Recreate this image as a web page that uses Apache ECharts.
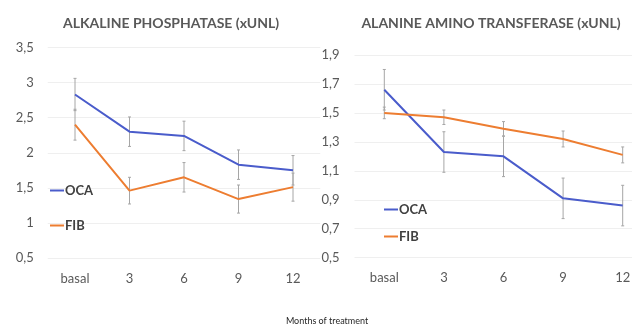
<!DOCTYPE html>
<html><head><meta charset="utf-8">
<script src="https://cdn.jsdelivr.net/npm/echarts@6/dist/echarts.min.js"></script>
<style>html,body{margin:0;padding:0;background:#fff}#c{width:632px;height:325px}</style>
</head><body><div id="c"></div>
<script>
const categories = ['basal', '3', '6', '9', '12'];
// Alkaline phosphatase (xUNL)
const apOca = [2.83, 2.30, 2.24, 1.83, 1.75];
const apOcaErr = [0.23, 0.21, 0.21, 0.21, 0.21];
const apFib = [2.40, 1.46, 1.65, 1.34, 1.51];
const apFibErr = [0.22, 0.19, 0.21, 0.20, 0.20];
// Alanine amino transferase (xUNL)
const altOca = [1.66, 1.23, 1.20, 0.91, 0.86];
const altOcaErr = [0.14, 0.14, 0.14, 0.14, 0.14];
const altFib = [1.50, 1.47, 1.39, 1.32, 1.21];
const altFibErr = [0.04, 0.05, 0.05, 0.055, 0.055];

const OCA_COLOR = '#4a5ccb';
const FIB_COLOR = '#ed7d31';
const FONT = 'Lato';

function errData(vals, errs) {
  return vals.map((v, i) => [i, v - errs[i], v + errs[i]]);
}
function errSeries(idx, vals, errs) {
  return {
    type: 'custom', xAxisIndex: idx, yAxisIndex: idx, z: 1, silent: true,
    data: errData(vals, errs),
    renderItem: function (params, api) {
      const lo = api.coord([api.value(0), api.value(1)]);
      const hi = api.coord([api.value(0), api.value(2)]);
      const st = { stroke: '#a6a6a6', lineWidth: 1 };
      return { type: 'group', children: [
        { type: 'line', shape: { x1: lo[0], y1: lo[1], x2: hi[0], y2: hi[1] }, style: st },
        { type: 'line', shape: { x1: lo[0] - 1.5, y1: lo[1], x2: lo[0] + 1.5, y2: lo[1] }, style: st },
        { type: 'line', shape: { x1: hi[0] - 1.5, y1: hi[1], x2: hi[0] + 1.5, y2: hi[1] }, style: st }
      ]};
    }
  };
}
function lineSeries(idx, name, vals, color) {
  return { type: 'line', name: name, xAxisIndex: idx, yAxisIndex: idx, data: vals, z: 3,
    showSymbol: false, symbol: 'none', lineStyle: { color: color, width: 2 }, itemStyle: { color: color } };
}
const labelStyle = { color: '#595959', fontFamily: FONT, fontSize: 13 };
function xAx(idx) {
  return { type: 'category', gridIndex: idx, data: categories, boundaryGap: true,
    axisLine: { show: false }, axisTick: { show: false },
    axisLabel: Object.assign({ margin: 14 }, labelStyle), splitLine: { show: false } };
}
function yAx(idx, min, max, interval, margin) {
  return { type: 'value', gridIndex: idx, min: min, max: max, interval: interval,
    axisLine: { show: false }, axisTick: { show: false },
    axisLabel: Object.assign({ margin: margin, formatter: v => String(+v.toFixed(1)).replace('.', ',') }, labelStyle),
    splitLine: { lineStyle: { color: '#efefef', width: 1 } } };
}
function legend(name, left, top) {
  return { data: [name], left: left, top: top, padding: 0, icon: 'rect', itemWidth: 14, itemHeight: 2,
    itemGap: 0, selectedMode: false,
    textStyle: { color: '#404040', fontFamily: FONT, fontSize: 13, fontWeight: 'bold', padding: [0, 0, 0, -4] } };
}

const chart = echarts.init(document.getElementById('c'), null, { renderer: 'canvas' });
chart.setOption({
  animation: false,
  backgroundColor: '#ffffff',
  title: [
    { text: 'ALKALINE PHOSPHATASE (xUNL)', left: 166, top: 11, textAlign: 'center',
      textStyle: { color: '#595959', fontFamily: FONT, fontSize: 14, fontWeight: 'bold' } },
    { text: 'ALANINE AMINO TRANSFERASE (xUNL)', left: 486, top: 11, textAlign: 'center',
      textStyle: { color: '#595959', fontFamily: FONT, fontSize: 14, fontWeight: 'bold' } },
    { text: 'Months of treatment', left: 322, top: 312, textAlign: 'center',
      textStyle: { color: '#262626', fontFamily: FONT, fontSize: 9, fontWeight: 'normal' } }
  ],
  legend: [
    legend('OCA', 50, 184),
    legend('FIB', 50, 219),
    legend('OCA', 384, 203),
    legend('FIB', 384, 230)
  ],
  grid: [
    { left: 47.75, top: 47.5, width: 272.5, height: 210.5, outerBoundsMode: 'none', containLabel: false },
    { left: 354.5, top: 55, width: 298, height: 202.7, outerBoundsMode: 'none', containLabel: false }
  ],
  xAxis: [xAx(0), xAx(1)],
  yAxis: [yAx(0, 0.5, 3.5, 0.5, 14), yAx(1, 0.5, 1.9, 0.2, 15)],
  series: [
    errSeries(0, apOca, apOcaErr),
    errSeries(0, apFib, apFibErr),
    errSeries(1, altOca, altOcaErr),
    errSeries(1, altFib, altFibErr),
    lineSeries(0, 'OCA', apOca, OCA_COLOR),
    lineSeries(0, 'FIB', apFib, FIB_COLOR),
    lineSeries(1, 'OCA', altOca, OCA_COLOR),
    lineSeries(1, 'FIB', altFib, FIB_COLOR)
  ]
});
</script></body></html>
